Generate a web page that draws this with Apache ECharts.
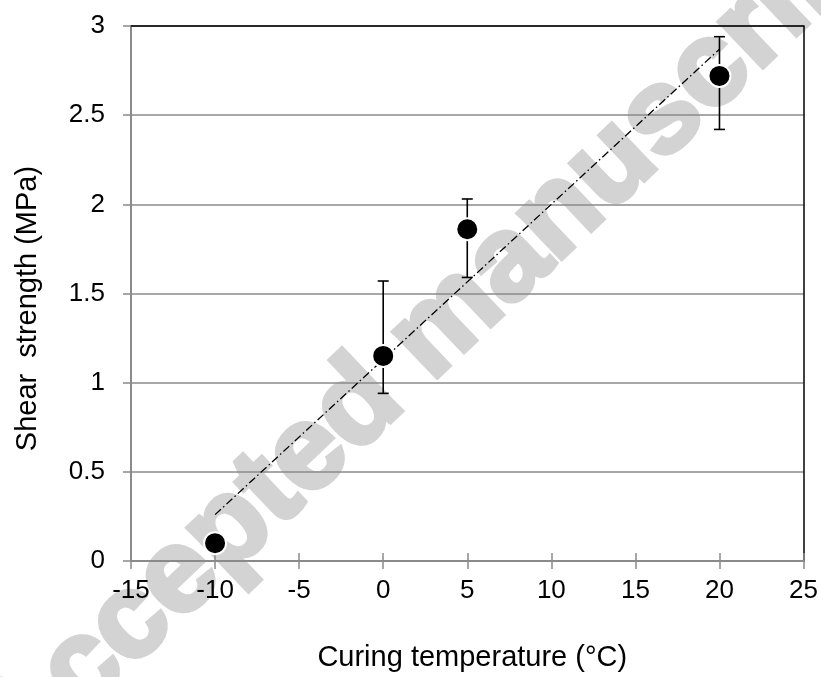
<!DOCTYPE html>
<html>
<head>
<meta charset="utf-8">
<script src="https://cdn.jsdelivr.net/npm/echarts@6/dist/echarts.min.js"></script>
<style>
  html, body { margin: 0; padding: 0; background: #fff; }
  #chart { width: 821px; height: 677px; }
</style>
</head>
<body>
<div id="chart"></div>
<script>
// Curing temperature (°C) and mean shear strength (MPa)
const temperatures = [-10, 0, 5, 20];
const strengths = [0.1, 1.15, 1.86, 2.72];
// Error bar limits (MPa); no bar drawn where null
const errLow = [null, 0.94, 1.59, 2.42];
const errHigh = [null, 1.57, 2.03, 2.94];
// Linear trend line end points
const trendX = [-10, 20];
const trendY = [0.26, 2.87];
// Axis ranges
const xTicks = { min: -15, max: 25, step: 5 };
const yTicks = { min: 0, max: 3, step: 0.5 };

const FONT = '"Liberation Sans", Arial, sans-serif';
const GRID_GRAY = '#8a8a8a';
const MARK_GRAY = '#d3d3d3';

const points = temperatures.map((t, i) => [t, strengths[i]]);
const bars = temperatures
  .map((t, i) => [t, errLow[i], errHigh[i]])
  .filter(d => d[1] != null && d[2] != null);
const trend = trendX.map((x, i) => [x, trendY[i]]);

const chart = echarts.init(document.getElementById('chart'), null, { renderer: 'canvas' });

const option = {
  animation: false,
  backgroundColor: '#fff',
  grid: { left: 131, right: 17, top: 26, bottom: 114, containLabel: false },
  graphic: [{
    type: 'text',
    silent: true,
    z: -10,
    x: 435,
    y: 334,
    rotation: 43.6 * Math.PI / 180,
    style: {
      text: 'Accepted manuscript',
      fontFamily: FONT,
      fontWeight: 'bold',
      fontSize: 119,
      fill: MARK_GRAY,
      stroke: MARK_GRAY,
      lineWidth: 5,
      align: 'center',
      verticalAlign: 'middle'
    }
  }],
  xAxis: [
    {
      type: 'value',
      position: 'bottom',
      min: xTicks.min, max: xTicks.max, interval: xTicks.step,
      name: 'Curing temperature (°C)',
      nameLocation: 'middle',
      nameGap: 82,
      nameTextStyle: { fontFamily: FONT, fontSize: 29, color: '#000', padding: [0, 0, 0, 10] },
      axisLine: { show: true, onZero: false, lineStyle: { color: GRID_GRAY, width: 2 } },
      axisTick: { show: true, inside: false, length: 8, lineStyle: { color: GRID_GRAY, width: 1.5 } },
      axisLabel: { fontFamily: FONT, fontSize: 26, color: '#000', margin: 17 },
      splitLine: { show: false }
    },
    {
      // inner half of the crossing tick marks
      type: 'value',
      position: 'bottom',
      min: xTicks.min, max: xTicks.max, interval: xTicks.step,
      axisLine: { show: false, onZero: false },
      axisTick: { show: true, inside: true, length: 8, lineStyle: { color: GRID_GRAY, width: 1.5 } },
      axisLabel: { show: false },
      splitLine: { show: false }
    },
    {
      // top frame
      type: 'value',
      position: 'top',
      min: xTicks.min, max: xTicks.max, interval: xTicks.step,
      axisLine: { show: true, onZero: false, lineStyle: { color: '#000', width: 1.5 } },
      axisTick: { show: false },
      axisLabel: { show: false },
      splitLine: { show: false }
    }
  ],
  yAxis: [
    {
      type: 'value',
      position: 'left',
      min: yTicks.min, max: yTicks.max, interval: yTicks.step,
      name: 'Shear  strength (MPa)',
      nameLocation: 'middle',
      nameGap: 89,
      nameRotate: 90,
      nameTextStyle: { fontFamily: FONT, fontSize: 29, color: '#000', padding: [0, 30, 0, 0] },
      axisLine: { show: true, onZero: false, lineStyle: { color: GRID_GRAY, width: 2 } },
      axisTick: { show: true, inside: false, length: 8, lineStyle: { color: GRID_GRAY, width: 1.5 } },
      axisLabel: { fontFamily: FONT, fontSize: 26, color: '#000', margin: 26 },
      splitLine: { show: true, lineStyle: { color: GRID_GRAY, width: 1.6 } }
    },
    {
      // right frame
      type: 'value',
      position: 'right',
      min: yTicks.min, max: yTicks.max, interval: yTicks.step,
      axisLine: { show: true, onZero: false, lineStyle: { color: '#000', width: 1.5 } },
      axisTick: { show: false },
      axisLabel: { show: false },
      splitLine: { show: false }
    }
  ],
  series: [
    {
      name: 'Trend',
      type: 'line',
      data: trend,
      symbol: 'none',
      silent: true,
      z: 3,
      lineStyle: { color: '#000', width: 1.3, type: [8, 3, 1.5, 3] }
    },
    {
      name: 'Error',
      type: 'custom',
      data: bars,
      z: 4,
      encode: { x: 0, y: [1, 2] },
      renderItem: function (params, api) {
        const x = api.value(0);
        const lo = api.coord([x, api.value(1)]);
        const hi = api.coord([x, api.value(2)]);
        const w = 5.5;
        const st = { stroke: '#000', lineWidth: 1.6 };
        return {
          type: 'group',
          children: [
            { type: 'line', shape: { x1: lo[0], y1: lo[1], x2: hi[0], y2: hi[1] }, style: st },
            { type: 'line', shape: { x1: hi[0] - w, y1: hi[1], x2: hi[0] + w, y2: hi[1] }, style: st },
            { type: 'line', shape: { x1: lo[0] - w, y1: lo[1], x2: lo[0] + w, y2: lo[1] }, style: st }
          ]
        };
      }
    },
    {
      name: 'Shear strength',
      type: 'scatter',
      data: points,
      z: 5,
      symbol: 'circle',
      symbolSize: 22,
      itemStyle: { color: '#000', borderColor: '#fff', borderWidth: 2, opacity: 1 }
    }
  ]
};

chart.setOption(option);
</script>
</body>
</html>
